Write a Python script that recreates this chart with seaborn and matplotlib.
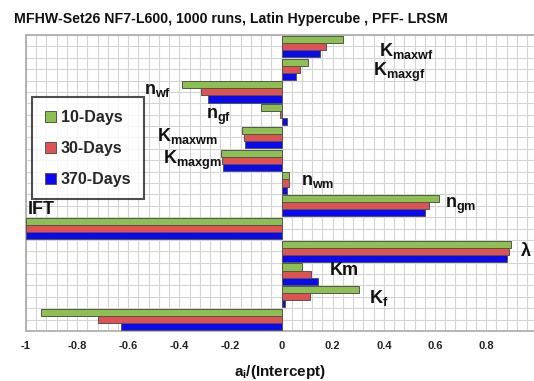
import numpy as np
import pandas as pd
import matplotlib
matplotlib.use("Agg")
import matplotlib.pyplot as plt
from matplotlib.ticker import MultipleLocator, FuncFormatter
import seaborn as sns

# ---- data ----
categories = ["Kmaxwf", "Kmaxgf", "nwf", "ngf", "Kmaxwm", "Kmaxgm", "nwm",
              "ngm", "IFT", "lambda", "Km", "Kf", "other"]
series = ["10-Days", "30-Days", "370-Days"]
vals_10 = [0.24, 0.104, -0.389, -0.08, -0.154, -0.236, 0.029, 0.614, -1.0, 0.898, 0.081, 0.301, -0.94]
vals_30 = [0.172, 0.073, -0.314, -0.005, -0.147, -0.232, 0.030, 0.575, -1.0, 0.890, 0.116, 0.112, -0.72]
vals_370 = [0.151, 0.055, -0.288, 0.022, -0.145, -0.230, 0.021, 0.560, -1.0, 0.881, 0.143, 0.014, -0.63]
colors = ["#8cc152", "#e05252", "#0a0af0"]

title = "MFHW-Set26 NF7-L600, 1000 runs, Latin Hypercube , PFF- LRSM"
xlabel = r"a$_\mathregular{i}$/(Intercept)"

# category labels: (text, x data, y offset in categories)
labels = {
    "Kmaxwf": (r"K$_{\mathregular{maxwf}}$", 0.383, 0.2),
    "Kmaxgf": (r"K$_{\mathregular{maxgf}}$", 0.356, 0.15),
    "nwf": (r"n$_{\mathregular{wf}}$", -0.54, -0.05),
    "ngf": (r"n$_{\mathregular{gf}}$", -0.295, 0.08),
    "Kmaxwm": (r"K$_{\mathregular{maxwm}}$", -0.489, -0.05),
    "Kmaxgm": (r"K$_{\mathregular{maxgm}}$", -0.465, 0.0),
    "nwm": (r"n$_{\mathregular{wm}}$", 0.077, -0.05),
    "ngm": (r"n$_{\mathregular{gm}}$", 0.64, 0.0),
    "IFT": ("IFT", -0.992, -0.85),
    "lambda": ("λ", 0.938, 0.0),
    "Km": ("Km", 0.19, -0.15),
    "Kf": (r"K$_{\mathregular{f}}$", 0.34, 0.05),
}

rows = []
for s, vals in zip(series, [vals_10, vals_30, vals_370]):
    for c, v in zip(categories, vals):
        rows.append({"cat": c, "series": s, "val": v})
df = pd.DataFrame(rows)

sns.set_theme(style="white")
plt.rcParams["font.family"] = ["Liberation Sans", "DejaVu Sans"]
plt.rcParams["font.weight"] = "bold"
plt.rcParams["mathtext.fontset"] = "custom"
plt.rcParams["mathtext.rm"] = "Liberation Sans:bold"
plt.rcParams["mathtext.it"] = "Liberation Sans:bold"
plt.rcParams["mathtext.bf"] = "Liberation Sans:bold"

fig = plt.figure(figsize=(5.34, 3.81), dpi=100)
ax = fig.add_axes([26 / 534, 1 - 331 / 381, 1 - 26 / 534, (331 - 35) / 381])

sns.barplot(data=df, x="val", y="cat", hue="series", order=categories,
            hue_order=series, palette=colors, orient="h", width=0.93,
            edgecolor="#555555", linewidth=0.7, saturation=1, ax=ax,
            legend=True, zorder=3)

ax.set_xlim(-1, 0.9875)
ax.set_ylim(len(categories) - 0.5, -0.5)

ax.xaxis.set_major_locator(MultipleLocator(0.2))
ax.xaxis.set_minor_locator(MultipleLocator(0.04))
ax.xaxis.set_major_formatter(FuncFormatter(lambda v, p: "%g" % round(v, 2) if abs(v) > 1e-9 else "0"))
ax.set_yticks(np.arange(-0.5, len(categories), 0.5))
ax.set_yticklabels([])
ax.tick_params(axis="y", length=0)
ax.tick_params(axis="x", which="major", length=4, width=0.8, color="#888888",
               labelsize=8, labelcolor="#222222", pad=3)
ax.tick_params(axis="x", which="minor", length=0)
for lab in ax.get_xticklabels():
    lab.set_fontweight("bold")

ax.xaxis.grid(True, which="both", color="#d4d4d4", linewidth=0.8)
ax.yaxis.grid(True, which="major", color="#d4d4d4", linewidth=0.8)
for gl in ax.get_ygridlines():
    gl.set_visible(True)
ax.set_axisbelow(True)

for side in ["left", "bottom", "top"]:
    ax.spines[side].set_color("#aaaaaa")
    ax.spines[side].set_linewidth(1.2)
ax.spines["right"].set_visible(False)

ax.set_ylabel("")
ax.set_xlabel(xlabel, fontsize=11, fontweight="bold", labelpad=9, color="#111111")

for i, c in enumerate(categories):
    if c in labels:
        t, xx, dy = labels[c]
        ax.text(xx, i + dy, t, ha="left", va="center", fontsize=13,
                fontweight="bold", color="#111111", clip_on=False, zorder=5)

leg = ax.legend(loc="upper left", bbox_to_anchor=(32 / 534, 1 - 97 / 381),
                bbox_transform=fig.transFigure, borderaxespad=0,
                frameon=True, fancybox=False, fontsize=11.5,
                handlelength=0.7, handleheight=0.7, handletextpad=0.3,
                labelspacing=1.0, borderpad=0.8)
leg.get_frame().set_edgecolor("#222222")
leg.get_frame().set_linewidth(1.5)
leg.set_zorder(6)
for t in leg.get_texts():
    t.set_fontweight("bold")

fig.text(14 / 534, 1 - 19 / 381, title, ha="left", va="center",
         fontsize=10.2, fontweight="bold", color="#111111")

fig.savefig("out.png", dpi=100)
